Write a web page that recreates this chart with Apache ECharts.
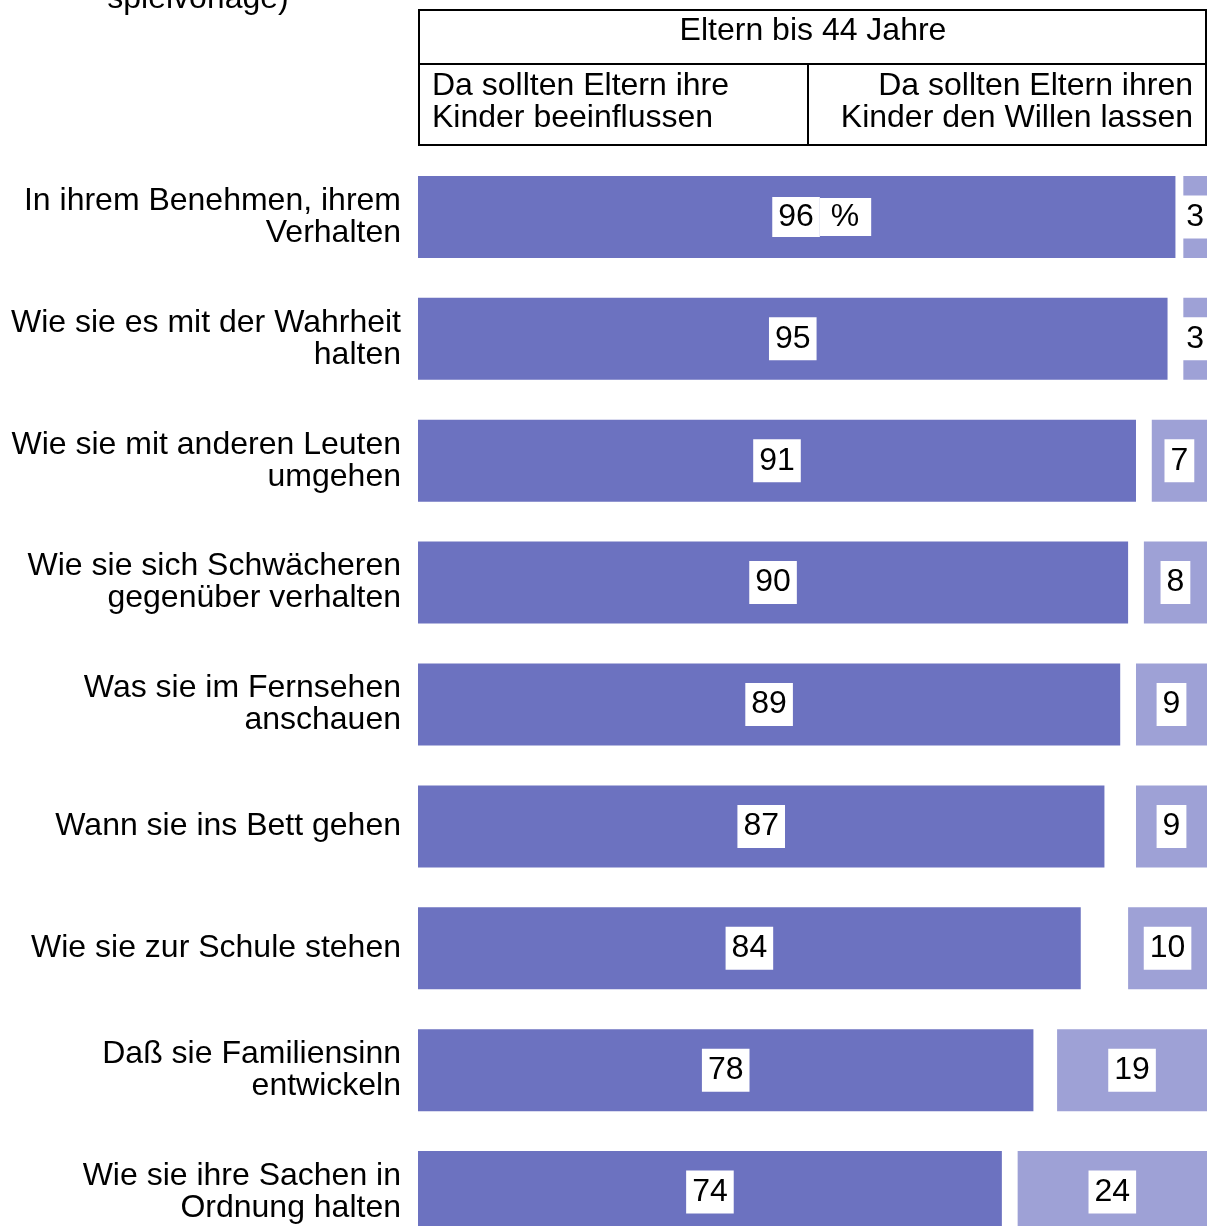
<!DOCTYPE html>
<html>
<head>
<meta charset="utf-8">
<script src="https://cdn.jsdelivr.net/npm/echarts@6/dist/echarts.min.js"></script>
<style>
  html, body { margin: 0; padding: 0; background: #fff; overflow: hidden; }
  #chart { width: 1207px; height: 1253px; }
</style>
</head>
<body>
<div id="chart"></div>
<script>
// Kategorien (von oben nach unten)
const categories = [
  'In ihrem Benehmen, ihrem\nVerhalten',
  'Wie sie es mit der Wahrheit\nhalten',
  'Wie sie mit anderen Leuten\numgehen',
  'Wie sie sich Schwächeren\ngegenüber verhalten',
  'Was sie im Fernsehen\nanschauen',
  'Wann sie ins Bett gehen',
  'Wie sie zur Schule stehen',
  'Daß sie Familiensinn\nentwickeln',
  'Wie sie ihre Sachen in\nOrdnung halten'
];
// "Da sollten Eltern ihre Kinder beeinflussen"
const beeinflussen = [96, 95, 91, 90, 89, 87, 84, 78, 74];
// "Da sollten Eltern ihren Kindern den Willen lassen"
const willenLassen = [3, 3, 7, 8, 9, 9, 10, 19, 24];

const FONT = 'Arial, "Liberation Sans", Helvetica, sans-serif';
const FS = 32;
const DARK = '#6c72c0';
const LIGHT = '#9ea1d6';

const boxLabel = {
  show: true,
  position: 'inside',
  color: '#000',
  fontFamily: FONT,
  fontSize: FS,
  lineHeight: 35,
  backgroundColor: '#fff',
  padding: [4, 6, 4, 6]
};

const boxPart = {
  color: '#000',
  fontFamily: FONT,
  fontSize: FS,
  lineHeight: 35,
  backgroundColor: '#fff',
  padding: [4, 6, 4, 6]
};

const chart = echarts.init(document.getElementById('chart'));

chart.setOption({
  animation: false,
  grid: { left: 418, right: 0, top: 156, bottom: 0 },
  xAxis: { type: 'value', min: 0, max: 100, show: false },
  yAxis: {
    type: 'category',
    data: categories,
    inverse: true,
    axisLine: { show: false },
    axisTick: { show: false },
    splitLine: { show: false },
    axisLabel: {
      color: '#000',
      fontFamily: FONT,
      fontSize: FS,
      lineHeight: 32,
      margin: 17,
      align: 'right'
    }
  },
  series: [
    {
      type: 'bar',
      stack: 'a',
      barWidth: 82,
      itemStyle: { color: DARK },
      label: boxLabel,
      data: beeinflussen.map((v, i) => i === 0
        ? {
            value: v,
            label: {
              formatter: '{a|{c}}{b| %}',
              backgroundColor: 'transparent',
              padding: 0,
              offset: [25, 0],
              rich: {
                a: boxPart,
                b: Object.assign({}, boxPart, { padding: [3, 12, 3, 2] })
              }
            }
          }
        : v)
    },
    {
      type: 'bar',
      stack: 'a',
      barWidth: 82,
      silent: true,
      itemStyle: { color: 'transparent' },
      data: beeinflussen.map((v, i) => 100 - v - willenLassen[i])
    },
    {
      type: 'bar',
      stack: 'a',
      barWidth: 82,
      itemStyle: { color: LIGHT },
      label: boxLabel,
      data: willenLassen
    }
  ],
  graphic: [
    // abgeschnittene Überschrift oben links
    {
      type: 'text', x: 198, y: -1,
      style: { text: 'spielvorlage)', fill: '#000', font: FS + 'px ' + FONT, align: 'center', verticalAlign: 'middle' }
    },
    // Kopftabelle
    {
      type: 'rect',
      shape: { x: 419, y: 10, width: 787, height: 135 },
      style: { fill: 'none', stroke: '#000', lineWidth: 2 }
    },
    {
      type: 'line',
      shape: { x1: 419, y1: 64, x2: 1206, y2: 64 },
      style: { stroke: '#000', lineWidth: 2 }
    },
    {
      type: 'line',
      shape: { x1: 808, y1: 64, x2: 808, y2: 145 },
      style: { stroke: '#000', lineWidth: 2 }
    },
    {
      type: 'text', x: 813, y: 31,
      style: { text: 'Eltern bis 44 Jahre', fill: '#000', font: FS + 'px ' + FONT, align: 'center', verticalAlign: 'middle' }
    },
    {
      type: 'text', x: 432, y: 102,
      style: { text: 'Da sollten Eltern ihre\nKinder beeinflussen', fill: '#000', font: FS + 'px ' + FONT, lineHeight: 32, align: 'left', verticalAlign: 'middle' }
    },
    {
      type: 'text', x: 1193, y: 102,
      style: { text: 'Da sollten Eltern ihren\nKinder den Willen lassen', fill: '#000', font: FS + 'px ' + FONT, lineHeight: 32, align: 'right', verticalAlign: 'middle' }
    }
  ]
});
</script>
</body>
</html>
